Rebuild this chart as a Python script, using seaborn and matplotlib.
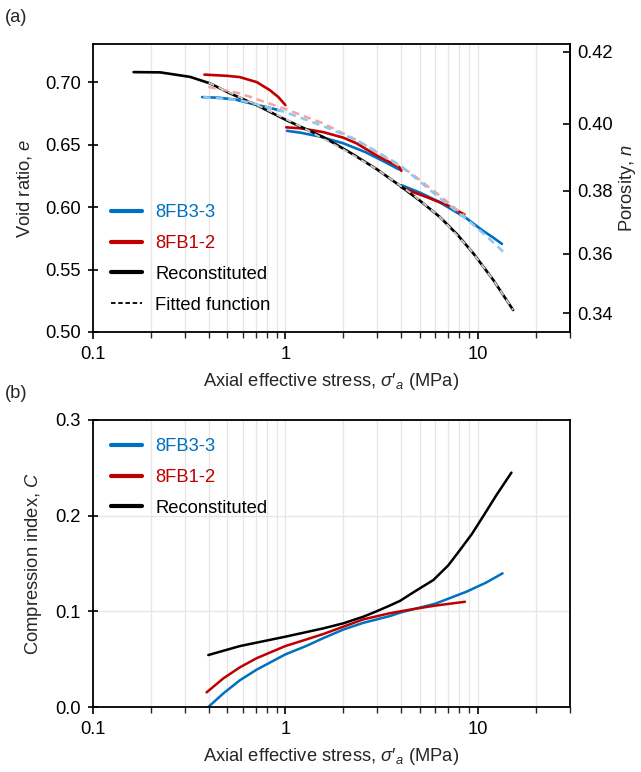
import numpy as np
import pandas as pd
import matplotlib
matplotlib.use("Agg")
import matplotlib.pyplot as plt
from matplotlib.lines import Line2D
from matplotlib.ticker import LogLocator, FixedLocator, FuncFormatter
import seaborn as sns

# ---------------- data ----------------
# Panel (a): void ratio vs axial effective stress
b_seg1_s = [0.37, 0.45, 0.55, 0.70, 0.85, 0.95]
b_seg1_e = [0.688, 0.6875, 0.686, 0.682, 0.679, 0.677]
b_seg2_s = [1.02, 1.2, 1.5, 2.0, 2.6, 3.2, 3.9]
b_seg2_e = [0.661, 0.6595, 0.6565, 0.651, 0.644, 0.637, 0.630]
b_seg3_s = [4.0, 5.0, 6.3, 7.5, 8.7, 10.5, 12.0, 13.3]
b_seg3_e = [0.6175, 0.6115, 0.604, 0.597, 0.591, 0.5815, 0.5755, 0.5705]

r_seg1_s = [0.38, 0.50, 0.58, 0.71, 0.83, 0.92, 1.0]
r_seg1_e = [0.706, 0.705, 0.704, 0.700, 0.6936, 0.688, 0.6816]
r_seg2_s = [1.01, 1.2, 1.57, 2.0, 2.34, 3.0, 3.9, 4.0]
r_seg2_e = [0.6638, 0.663, 0.660, 0.6555, 0.651, 0.641, 0.632, 0.629]
r_seg3_s = [4.0, 4.6, 5.4, 6.9, 8.5]
r_seg3_e = [0.6157, 0.612, 0.608, 0.6016, 0.594]

rec_s = [0.163, 0.224, 0.32, 0.406, 0.516, 0.709, 1.01, 1.574, 2.2, 3.0, 3.94,
         5.0, 6.34, 7.8, 9.44, 12.0, 15.2]
rec_e = [0.708, 0.7078, 0.7042, 0.699, 0.691, 0.6816, 0.6696, 0.656, 0.643,
         0.630, 0.617, 0.605, 0.592, 0.578, 0.563, 0.5416, 0.5176]

fit_b_s = [0.375, 0.58, 0.977, 1.57, 2.34, 3.94, 6.34, 8.7, 11.0, 13.5]
fit_b_e = [0.688, 0.6856, 0.6765, 0.6648, 0.6536, 0.6335, 0.607, 0.5905, 0.577, 0.5643]
fit_r_s = [0.398, 0.58, 0.977, 1.57, 2.34, 3.48, 4.5, 6.34, 8.5]
fit_r_e = [0.6962, 0.691, 0.679, 0.667, 0.6536, 0.6376, 0.627, 0.609, 0.593]
fit_k_s = [0.4, 0.55, 0.8, 1.2, 2.0, 3.0, 4.5, 6.34, 9.0, 12.0, 15.2]
fit_k_e = [0.6995, 0.6895, 0.678, 0.6645, 0.646, 0.630, 0.611, 0.592, 0.567, 0.5416, 0.5176]

# Panel (b): compression index vs axial effective stress
cb_s = [0.398, 0.477, 0.581, 0.709, 1.0, 1.29, 1.574, 2.0, 2.54, 3.48, 4.0,
        6.0, 8.7, 11.0, 13.4]
cb_c = [0.0, 0.0143, 0.028, 0.039, 0.055, 0.064, 0.072, 0.081, 0.088, 0.095,
        0.099, 0.108, 0.1205, 0.130, 0.1397]
cr_s = [0.39, 0.477, 0.581, 0.709, 1.0, 1.29, 1.574, 2.0, 2.54, 3.48, 4.5,
        6.0, 8.55]
cr_c = [0.0153, 0.030, 0.0415, 0.051, 0.0637, 0.0707, 0.0763, 0.084, 0.0916,
        0.098, 0.102, 0.106, 0.110]
ck_s = [0.398, 0.581, 1.0, 1.574, 2.0, 2.54, 2.97, 3.48, 3.94, 4.8, 5.86,
        7.0, 8.05, 9.3, 10.6, 12.5, 14.9]
ck_c = [0.0543, 0.0637, 0.0735, 0.0822, 0.0875, 0.0944, 0.100, 0.106, 0.111,
        0.122, 0.1327, 0.148, 0.164, 0.181, 0.199, 0.222, 0.245]

labels = ["8FB3-3", "8FB1-2", "Reconstituted", "Fitted function"]

# ---------------- style ----------------
sns.set_theme(style="white")
plt.rcParams["font.family"] = ["Liberation Sans", "DejaVu Sans"]
plt.rcParams["mathtext.fontset"] = "custom"
plt.rcParams["mathtext.it"] = "Liberation Sans:italic"
plt.rcParams["mathtext.rm"] = "Liberation Sans"
plt.rcParams["axes.unicode_minus"] = False

FS = 13.2
BLUE = "#0070C0"
RED = "#C00000"
LBLUE = "#8CC8F2"
PINK = "#F4A3A3"
GREY = "#C8C8C8"
GRID = "#E6E6E6"

fig = plt.figure(figsize=(6.41, 7.72), dpi=100)
W, H = 641, 772
axA = fig.add_axes([92.7 / W, 1 - 332 / H, (570 - 92.7) / W, 288 / H])
axB = fig.add_axes([92.7 / W, 1 - 707 / H, (570 - 92.7) / W, 287 / H])


def draw(ax, s, y, **kw):
    df = pd.DataFrame({"s": s, "y": y})
    sns.lineplot(data=df, x="s", y="y", ax=ax, sort=False, estimator=None,
                 legend=False, **kw)


# panel (a)
LW = 1.9
for s, e in [(b_seg1_s, b_seg1_e), (b_seg2_s, b_seg2_e), (b_seg3_s, b_seg3_e)]:
    draw(axA, s, e, color=BLUE, lw=LW)
for s, e in [(r_seg1_s, r_seg1_e), (r_seg2_s, r_seg2_e), (r_seg3_s, r_seg3_e)]:
    draw(axA, s, e, color=RED, lw=LW)
draw(axA, rec_s, rec_e, color="black", lw=LW)
draw(axA, fit_r_s, fit_r_e, color=PINK, lw=1.8, linestyle=(0, (3, 2)))
draw(axA, fit_b_s, fit_b_e, color=LBLUE, lw=1.8, linestyle=(0, (3, 2)))
draw(axA, fit_k_s, fit_k_e, color=GREY, lw=1.4, linestyle=(0, (3, 2.5)))

# panel (b)
draw(axB, cb_s, cb_c, color=BLUE, lw=1.8)
draw(axB, cr_s, cr_c, color=RED, lw=1.8)
draw(axB, ck_s, ck_c, color="black", lw=1.8)

xlabel = "Axial effective stress, $\\sigma$\u2032$_a$ (MPa)"
for ax in (axA, axB):
    ax.set_xscale("log")
    ax.set_xlim(0.1, 30)
    ax.xaxis.set_major_locator(FixedLocator([0.1, 1, 10]))
    ax.xaxis.set_major_formatter(FuncFormatter(lambda v, p: f"{v:g}"))
    ax.xaxis.set_minor_locator(LogLocator(base=10, subs=np.arange(2, 10)))
    ax.xaxis.set_minor_formatter(FuncFormatter(lambda v, p: ""))
    ax.grid(True, which="both", axis="x", color=GRID, lw=0.9)
    ax.set_axisbelow(True)
    for sp in ax.spines.values():
        sp.set_color("black")
        sp.set_linewidth(1.3)
        sp.set_visible(True)
    ax.tick_params(axis="x", which="major", direction="out", length=5, width=1.2,
                   labelsize=FS, colors="black", pad=5, bottom=True)
    ax.tick_params(axis="x", which="minor", direction="out", length=4, width=1.0,
                   bottom=True)
    ax.tick_params(axis="y", which="major", direction="inout", length=7, width=1.2,
                   labelsize=FS, colors="black", left=True, pad=5)
    ax.set_xlabel(xlabel, fontsize=FS, labelpad=6)

axA.set_ylim(0.50, 0.7305)
axA.set_yticks([0.50, 0.55, 0.60, 0.65, 0.70])
axA.yaxis.set_major_formatter(FuncFormatter(lambda v, p: f"{v:.2f}"))
axA.set_ylabel("Void ratio, $e$", fontsize=FS, labelpad=8)

axB.set_ylim(0.0, 0.3)
axB.set_yticks([0.0, 0.1, 0.2, 0.3])
axB.yaxis.set_major_formatter(FuncFormatter(lambda v, p: f"{v:.1f}"))
axB.grid(True, which="major", axis="y", color=GRID, lw=0.9)
axB.set_ylabel("Compression index, $C$", fontsize=FS, labelpad=8)


def e2n(e):
    return e / (1 + e)


def n2e(n):
    return n / (1 - n)


sec = axA.secondary_yaxis("right", functions=(e2n, n2e))
sec.set_yticks([0.34, 0.36, 0.38, 0.40, 0.42])
sec.yaxis.set_major_formatter(FuncFormatter(lambda v, p: f"{v:.2f}"))
sec.tick_params(axis="y", direction="in", length=5, width=1.2, labelsize=FS,
                colors="black", pad=5)
sec.spines["right"].set_linewidth(1.3)
sec.spines["right"].set_color("black")
sec.set_ylabel("Porosity, $n$", fontsize=FS, labelpad=3)
axA.tick_params(axis="y", right=False)

# legends
hA = [Line2D([], [], color=BLUE, lw=3),
      Line2D([], [], color=RED, lw=3),
      Line2D([], [], color="black", lw=3),
      Line2D([], [], color="black", lw=1.3, ls=(0, (2.5, 1.5)))]
legA = axA.legend(hA, labels, loc="lower left", bbox_to_anchor=(0.0, 0.0),
                  frameon=False, fontsize=FS, handlelength=1.7,
                  handletextpad=0.7, labelspacing=0.75, borderpad=0.5,
                  labelcolor=[BLUE, RED, "black", "black"])
hB = hA[:3]
legB = axB.legend(hB, labels[:3], loc="upper left", frameon=False, fontsize=FS,
                  handlelength=1.7, handletextpad=0.7, labelspacing=0.75,
                  borderpad=0.5, labelcolor=[BLUE, RED, "black"])

fig.text(5 / W, 1 - 18 / H, "(a)", fontsize=FS, va="center", ha="left")
fig.text(5 / W, 1 - 393 / H, "(b)", fontsize=FS, va="center", ha="left")

fig.savefig("out.png", dpi=100)
